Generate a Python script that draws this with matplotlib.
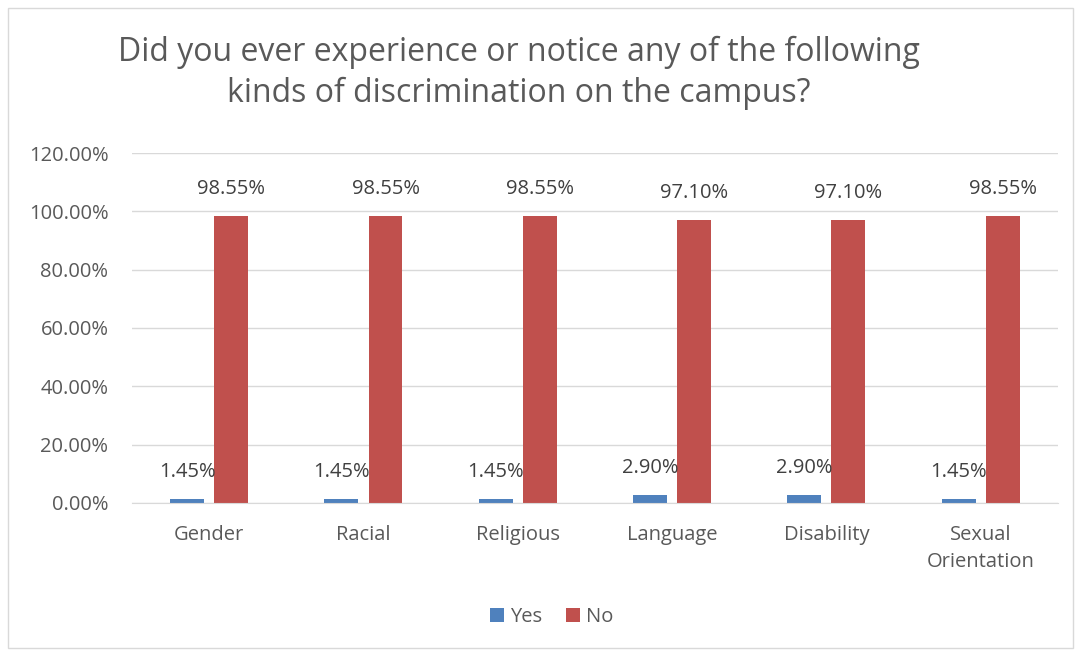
import matplotlib.pyplot as plt
import numpy as np
from matplotlib.patches import Rectangle
from matplotlib.ticker import FuncFormatter

categories = ['Gender', 'Racial', 'Religious', 'Language', 'Disability', 'Sexual\nOrientation']
yes_vals = [1.45, 1.45, 1.45, 2.90, 2.90, 1.45]
no_vals = [98.55, 98.55, 98.55, 97.10, 97.10, 98.55]

plt.rcParams['font.family'] = ['Open Sans', 'DejaVu Sans']
text_color = '#595959'

fig = plt.figure(figsize=(10.75, 6.5), dpi=100)
ax = fig.add_axes([0.1228, 0.2262, 0.8612, 0.5384])

x = np.arange(len(categories))
w = 0.22
off = 0.143
b1 = ax.bar(x - off, yes_vals, w, color='#4f81bd', label='Yes')
b2 = ax.bar(x + off, no_vals, w, color='#c0504d', label='No')

for bars, vals in ((b1, yes_vals), (b2, no_vals)):
    for b, v in zip(bars, vals):
        ax.annotate(f'{v:.2f}%', (b.get_x() + b.get_width() / 2, v),
                    xytext=(0, 12), textcoords='offset points',
                    ha='center', va='bottom', fontsize=14.5, color='#404040')

ax.set_xlim(-0.5, len(categories) - 0.5)
ax.set_ylim(0, 120)
ax.set_yticks(np.arange(0, 121, 20))
ax.yaxis.set_major_formatter(FuncFormatter(lambda v, p: f'{v:.2f}%'))
ax.set_xticks(x)
ax.set_xticklabels(categories, linespacing=1.45)
ax.tick_params(length=0, labelsize=14.5, colors=text_color)
ax.tick_params(axis='x', pad=16)
ax.tick_params(axis='y', pad=17)
ax.grid(axis='y', color='#d9d9d9', linewidth=1)
ax.set_axisbelow(True)
for s in ['top', 'right', 'left']:
    ax.spines[s].set_visible(False)
ax.spines['bottom'].set_color('#d9d9d9')

fig.text(0.483, 0.888, 'Did you ever experience or notice any of the following\nkinds of discrimination on the campus?',
         ha='center', va='center', fontsize=23, color=text_color, linespacing=1.3)

fig.legend(handles=[b1, b2], loc='center', bbox_to_anchor=(0.513, 0.051), ncol=2,
           frameon=False, fontsize=14.5, handlelength=0.7, handleheight=0.7,
           handletextpad=0.3, columnspacing=1.2, labelcolor=text_color)

fig.patches.append(Rectangle((8 / 1075, 2 / 650), 1065 / 1075, 640 / 650,
                             transform=fig.transFigure, fill=False,
                             edgecolor='#d9d9d9', linewidth=1))

plt.savefig('out.png', dpi=100)
